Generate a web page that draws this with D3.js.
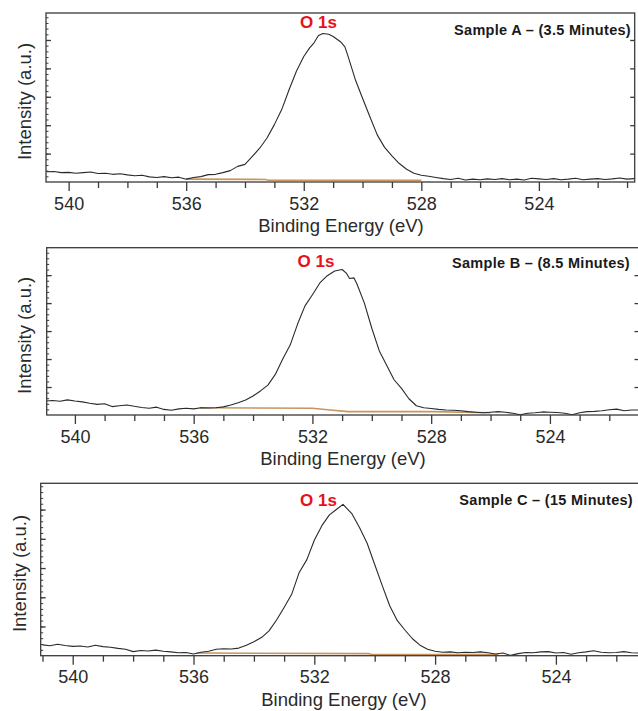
<!DOCTYPE html>
<html>
<head>
<meta charset="utf-8">
<script src="https://cdn.jsdelivr.net/npm/d3@7"></script>
<style>
  body { margin: 0; background: #fff; }
  svg { display: block; font-family: "Liberation Sans", Arial, sans-serif; }
</style>
</head>
<body>
<script>
// O 1s spectra, [binding energy (eV), intensity (a.u.)]
const spectrumA = [
  [540.75,0.36],[540.5,0.37],[540.25,0.33],[540,0.34],[539.75,0.31],[539.5,0.33],[539.25,0.35],[539,0.30],
  [538.75,0.31],[538.5,0.27],[538.25,0.29],[538,0.25],[537.75,0.22],[537.5,0.24],[537.25,0.18],[537,0.16],
  [536.75,0.19],[536.5,0.15],[536.25,0.17],[536,0.10],[535.75,0.16],[535.5,0.19],[535.25,0.26],[535,0.27],
  [534.75,0.33],[534.5,0.40],[534.25,0.55],[534,0.62],[533.75,0.90],[533.5,1.19],[533.25,1.55],[533,2.02],
  [532.75,2.55],[532.5,3.25],[532.25,3.90],[532,4.42],[531.8,4.72],[531.65,4.90],[531.5,5.16],[531.35,5.23],
  [531.15,5.20],[531,5.12],[530.75,4.94],[530.6,4.76],[530.5,4.45],[530.25,3.62],[530,2.95],[529.75,2.30],
  [529.5,1.66],[529.25,1.22],[529,0.92],[528.75,0.65],[528.5,0.45],[528.25,0.31],[528,0.24],[527.75,0.20],
  [527.5,0.16],[527.25,0.12],[527,0.09],[526.75,0.13],[526.5,0.07],[526.25,0.10],[526,0.08],[525.75,0.11],
  [525.5,0.09],[525.25,0.12],[525,0.08],[524.75,0.10],[524.5,0.07],[524.25,0.13],[524,0.11],[523.75,0.09],
  [523.5,0.12],[523.25,0.08],[523,0.10],[522.75,0.13],[522.5,0.08],[522.25,0.10],[522,0.12],[521.75,0.09],
  [521.5,0.11],[521.25,0.14],[521,0.10],[520.75,0.12]
];
const spectrumB = [
  [541,0.50],[540.75,0.52],[540.5,0.49],[540.25,0.54],[540,0.50],[539.75,0.47],[539.5,0.42],[539.25,0.38],
  [539,0.40],[538.75,0.30],[538.5,0.33],[538.25,0.36],[538,0.31],[537.75,0.27],[537.5,0.24],[537.25,0.28],
  [537,0.20],[536.75,0.17],[536.5,0.22],[536.25,0.24],[536,0.22],[535.75,0.26],[535.5,0.25],[535.25,0.26],
  [535,0.29],[534.75,0.36],[534.5,0.44],[534.25,0.54],[534,0.68],[533.75,0.86],[533.5,1.07],[533.25,1.45],
  [533,2.00],[532.75,2.50],[532.5,3.25],[532.25,3.90],[532,4.30],[531.75,4.72],[531.5,4.98],[531.25,5.15],
  [531,5.20],[530.85,5.06],[530.75,4.88],[530.6,4.90],[530.5,4.68],[530.25,4.00],[530,3.10],[529.75,2.30],
  [529.5,1.78],[529.25,1.26],[529,0.95],[528.75,0.58],[528.5,0.33],[528.25,0.26],[528,0.23],[527.75,0.20],
  [527.5,0.18],[527.25,0.17],[527,0.15],[526.75,0.12],[526.5,0.10],[526.25,0.08],[526,0.10],[525.75,0.12],
  [525.5,0.10],[525.25,0.06],[525,0.01],[524.75,0.06],[524.5,0.08],[524.25,0.11],[524,0.10],[523.75,0.09],
  [523.5,0.06],[523.25,0.01],[523,0.08],[522.75,0.12],[522.5,0.13],[522.25,0.15],[522,0.19],[521.75,0.21],
  [521.5,0.15],[521.25,0.18],[521,0.18]
];
const spectrumC = [
  [541,0.37],[540.75,0.34],[540.5,0.39],[540.25,0.35],[540,0.32],[539.75,0.33],[539.5,0.30],[539.25,0.36],
  [539,0.31],[538.75,0.29],[538.5,0.25],[538.25,0.22],[538,0.14],[537.75,0.18],[537.5,0.16],[537.25,0.19],
  [537,0.15],[536.75,0.13],[536.5,0.10],[536.25,0.11],[536,0.06],[535.75,0.12],[535.5,0.15],[535.25,0.22],
  [535,0.24],[534.75,0.23],[534.5,0.26],[534.25,0.36],[534,0.48],[533.75,0.62],[533.5,0.85],[533.25,1.22],
  [533,1.65],[532.75,2.10],[532.5,2.85],[532.25,3.28],[532,3.95],[531.75,4.45],[531.5,4.82],[531.25,5.02],
  [531.05,5.18],[530.75,4.85],[530.5,4.38],[530.25,3.85],[530,3.12],[529.75,2.40],[529.5,1.70],[529.25,1.20],
  [529,0.88],[528.75,0.58],[528.5,0.36],[528.25,0.22],[528,0.15],[527.75,0.12],[527.5,0.13],[527.25,0.10],
  [527,0.12],[526.75,0.11],[526.5,0.13],[526.25,0.10],[526,0.06],[525.75,0.09],[525.5,0.01],[525.25,0.07],
  [525,0.11],[524.75,0.10],[524.5,0.13],[524.25,0.14],[524,0.09],[523.75,0.11],[523.5,0.05],[523.25,0.10],
  [523,0.13],[522.75,0.17],[522.5,0.12],[522.25,0.10],[522,0.11],[521.75,0.14],[521.5,0.10],[521.25,0.09],
  [521,0.11]
];

// fitted backgrounds (tan line)
const backgroundA = [[536,0.10],[533.3,0.09],[533.2,0.06],[528,0.06]];
const backgroundB = [[535.8,0.26],[532,0.24],[531.4,0.18],[530.8,0.12],[528,0.12],[526,0.08]];
const backgroundC = [[535.9,0.09],[530.2,0.07],[530.1,0.04],[525.9,0.04]];

const sampleLabels = ["Sample A \u2013 (3.5 Minutes)", "Sample B \u2013 (8.5 Minutes)", "Sample C \u2013 (15 Minutes)"];
const peakLabel = "O 1s";
const xMajorTicks = [540, 536, 532, 528, 524];
const xMinorTicks = [541, 539, 538, 537, 535, 534, 533, 531, 530, 529, 527, 526, 525, 523, 522, 521];
const yMajorTicks = [1, 2, 3, 4, 5];
const yMinorTicks = d3.range(0.2, 6, 0.2);

// panel placement in the page
const panels = [
  { data: spectrumA, bg: backgroundA, label: sampleLabels[0],
    left: 46, right: 634.7, top: 13, bottom: 182, xDomain: [540.77, 520.74], yMax: 5.95,
    titleX: 341, yTitleX: 25, peakX: 318.5, peakY: 28, labelX: 631, labelY: 35, rightTicks: true },
  { data: spectrumB, bg: backgroundB, label: sampleLabels[1],
    left: 46.7, right: 639, top: 247.7, bottom: 415, xDomain: [540.95, 521.0], yMax: 5.98,
    titleX: 343, yTitleX: 25, peakX: 316, peakY: 266.5, labelX: 630, labelY: 268, rightTicks: true },
  { data: spectrumC, bg: backgroundC, label: sampleLabels[2],
    left: 40.7, right: 661.6, top: 483.3, bottom: 655.7, xDomain: [541.06, 520.5], yMax: 5.9,
    titleX: 344, yTitleX: 20, peakX: 318.5, peakY: 506, labelX: 633, labelY: 505, rightTicks: false }
];

const W = 638, H = 711;
const svg = d3.select("body").append("svg")
  .attr("width", W)
  .attr("height", H);

const frameColor = "#3a3a3a";

panels.forEach((p, i) => {
  const x = d3.scaleLinear().domain(p.xDomain).range([p.left, p.right]);
  const y = d3.scaleLinear().domain([0, p.yMax]).range([p.bottom, p.top]);
  const g = svg.append("g");

  g.append("clipPath").attr("id", "clip" + i)
    .append("rect")
    .attr("x", p.left).attr("y", p.top)
    .attr("width", p.right - p.left).attr("height", p.bottom - p.top);

  // bottom axis, minor then major
  g.append("g")
    .attr("transform", `translate(0,${p.bottom})`)
    .call(d3.axisBottom(x).tickValues(xMinorTicks.filter(v => x(v) >= p.left && x(v) <= p.right))
      .tickSize(6).tickSizeOuter(0).tickFormat(""))
    .call(a => a.select(".domain").remove())
    .call(a => a.selectAll("line").attr("stroke", frameColor).attr("stroke-width", 1.3));

  g.append("g")
    .attr("transform", `translate(0,${p.bottom})`)
    .call(d3.axisBottom(x).tickValues(xMajorTicks).tickSize(9).tickSizeOuter(0).tickPadding(6).tickFormat(d3.format("d")))
    .call(a => a.select(".domain").remove())
    .call(a => a.selectAll("line").attr("stroke", frameColor).attr("stroke-width", 1.3))
    .call(a => a.selectAll("text").attr("font-size", 18).attr("fill", "#2a2a2a")
      .attr("font-family", "'Liberation Sans', Arial, sans-serif"));

  // left axis ticks point inward
  g.append("g")
    .attr("transform", `translate(${p.left},0)`)
    .call(d3.axisRight(y).tickValues(yMinorTicks.filter(v => v < p.yMax)).tickSize(2.5).tickSizeOuter(0).tickFormat(""))
    .call(a => a.select(".domain").remove())
    .call(a => a.selectAll("line").attr("stroke", frameColor).attr("stroke-width", 1));

  g.append("g")
    .attr("transform", `translate(${p.left},0)`)
    .call(d3.axisRight(y).tickValues(yMajorTicks).tickSize(5).tickSizeOuter(0).tickFormat(""))
    .call(a => a.select(".domain").remove())
    .call(a => a.selectAll("line").attr("stroke", frameColor).attr("stroke-width", 1.3));

  if (p.rightTicks) {
    g.append("g")
      .attr("transform", `translate(${p.right},0)`)
      .call(d3.axisLeft(y).tickValues(yMajorTicks).tickSize(4.5).tickSizeOuter(0).tickFormat(""))
      .call(a => a.select(".domain").remove())
      .call(a => a.selectAll("line").attr("stroke", frameColor).attr("stroke-width", 1.3));
  }

  // background fit
  const line = d3.line().x(d => x(d[0])).y(d => y(d[1]));
  g.append("path")
    .datum(p.bg)
    .attr("clip-path", `url(#clip${i})`)
    .attr("fill", "none")
    .attr("stroke", "#c8955f")
    .attr("stroke-width", 1.6)
    .attr("d", line);

  // spectrum
  g.append("path")
    .datum(p.data)
    .attr("clip-path", `url(#clip${i})`)
    .attr("fill", "none")
    .attr("stroke", "#2a2a2a")
    .attr("stroke-width", 1.1)
    .attr("stroke-linejoin", "round")
    .attr("d", line);

  // frame
  g.append("rect")
    .attr("x", p.left).attr("y", p.top)
    .attr("width", p.right - p.left).attr("height", p.bottom - p.top)
    .attr("fill", "none")
    .attr("stroke", frameColor)
    .attr("stroke-width", 1.3);

  // axis titles
  g.append("text")
    .attr("x", p.titleX)
    .attr("y", p.bottom + 50)
    .attr("text-anchor", "middle")
    .attr("font-size", 18.5)
    .attr("fill", "#2a2a2a")
    .text("Binding Energy (eV)");

  g.append("text")
    .attr("transform", `translate(${p.yTitleX},${(p.top + p.bottom) / 2 + 4}) rotate(-90)`)
    .attr("text-anchor", "middle")
    .attr("dy", "0.35em")
    .attr("font-size", 18.5)
    .attr("fill", "#2a2a2a")
    .text("Intensity (a.u.)");

  // annotations
  g.append("text")
    .attr("x", p.peakX)
    .attr("y", p.peakY)
    .attr("text-anchor", "middle")
    .attr("font-size", 17)
    .attr("font-weight", "bold")
    .attr("fill", "#e8101a")
    .text(peakLabel);

  g.append("text")
    .attr("x", p.labelX)
    .attr("y", p.labelY)
    .attr("text-anchor", "end")
    .attr("font-size", 14.5)
    .attr("font-weight", "bold")
    .attr("letter-spacing", 0.3)
    .attr("fill", "#1a1a1a")
    .text(p.label);
});
</script>
</body>
</html>
